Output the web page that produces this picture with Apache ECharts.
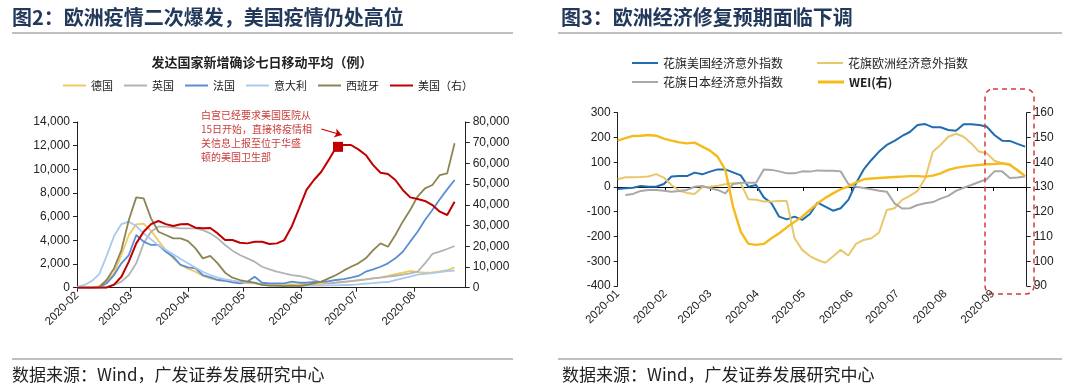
<!DOCTYPE html>
<html><head><meta charset="utf-8">
<script src="https://cdn.jsdelivr.net/npm/echarts@6/dist/echarts.min.js"></script>
<style>html,body{margin:0;padding:0;background:#fff}#c{width:1080px;height:387px}</style>
</head><body><div id="c"></div>
<script>
// ---------- Left chart: 7-day moving average of new confirmed cases ----------
const covidDates = ['2020-02-01','2020-02-05','2020-02-09','2020-02-13','2020-02-17','2020-02-21','2020-02-25','2020-02-29','2020-03-04','2020-03-08','2020-03-12','2020-03-16','2020-03-20','2020-03-24','2020-03-28','2020-04-01','2020-04-05','2020-04-09','2020-04-13','2020-04-17','2020-04-21','2020-04-25','2020-04-29','2020-05-03','2020-05-07','2020-05-11','2020-05-15','2020-05-19','2020-05-23','2020-05-27','2020-05-31','2020-06-04','2020-06-08','2020-06-12','2020-06-16','2020-06-20','2020-06-24','2020-06-28','2020-07-02','2020-07-06','2020-07-10','2020-07-14','2020-07-18','2020-07-22','2020-07-26','2020-07-30','2020-08-03','2020-08-07','2020-08-11','2020-08-15','2020-08-19','2020-08-23'];
const germany = [0,0,0,140,560,1210,2760,4450,5350,5410,4820,3970,3180,2480,1920,1610,1350,990,790,650,560,510,420,390,370,310,280,280,280,280,280,280,310,310,370,420,510,560,650,700,790,870,990,1150,1270,1410,1320,1270,1300,1380,1490,1690];
const uk = [0,0,0,0,80,230,510,1070,2060,3750,4730,5160,5160,5100,5010,5010,5010,4870,4590,4170,3610,3130,2760,2480,2200,1770,1550,1350,1210,1070,990,850,650,450,370,420,480,560,620,700,790,850,930,1010,1100,1210,1350,2060,2850,3040,3270,3520];
const france = [0,0,0,30,370,1070,2060,2760,4450,3890,3610,3610,3040,2620,1920,1720,1630,1070,870,650,590,450,370,510,930,420,370,370,370,510,420,420,480,510,560,650,730,850,990,1350,1550,1770,2060,2480,3040,3890,4730,5720,6560,7470,8310,9100];
const italy = [80,230,560,1150,2680,4370,5380,5580,5210,4590,4080,3580,3180,2820,2420,2060,1690,1350,1070,850,700,590,510,450,390,230,170,140,140,140,140,170,170,170,200,200,230,230,280,340,390,450,480,650,790,930,1100,1180,1240,1320,1410,1440];
const spain = [0,0,0,50,650,1630,3180,5720,7630,7550,5860,4730,4450,4170,4170,3940,3320,2480,2680,2060,1270,850,650,510,420,230,170,170,140,170,140,230,370,510,790,1070,1440,1770,2060,2480,3180,3750,3460,4450,5580,6560,7690,8390,8680,9520,9660,12200];
const usa = [0,0,0,0,0,1500,5300,12600,21400,27000,30700,32200,30700,29800,30600,30700,29000,28700,28800,26200,23000,23000,21700,21400,22200,22200,21100,21400,23000,29500,38300,47200,52000,56000,61700,67800,68900,68900,66800,64100,59200,55500,54900,52000,47200,43600,42800,41900,39900,36700,35100,41500];
const covidNames = ['德国','英国','法国','意大利','西班牙','美国（右）'];

// ---------- Right chart: Citi economic surprise indices & WEI ----------
const econDates = ['2020-01-01','2020-01-06','2020-01-11','2020-01-16','2020-01-21','2020-01-26','2020-01-31','2020-02-05','2020-02-10','2020-02-15','2020-02-20','2020-02-25','2020-03-01','2020-03-06','2020-03-11','2020-03-16','2020-03-21','2020-03-26','2020-03-31','2020-04-05','2020-04-10','2020-04-15','2020-04-20','2020-04-25','2020-04-30','2020-05-05','2020-05-10','2020-05-15','2020-05-20','2020-05-25','2020-05-30','2020-06-04','2020-06-09','2020-06-14','2020-06-19','2020-06-24','2020-06-29','2020-07-04','2020-07-09','2020-07-14','2020-07-19','2020-07-24','2020-07-29','2020-08-03','2020-08-08','2020-08-13','2020-08-18','2020-08-23','2020-08-28','2020-09-02','2020-09-07','2020-09-12','2020-09-17','2020-09-22'];
const citiUS = [-8,-5,-3,4,1,1,12,42,44,44,58,51,62,71,71,59,47,1,8,-42,-66,-120,-131,-120,-133,-109,-63,-79,-96,-86,-52,15,71,109,143,170,186,206,222,250,254,241,241,230,227,253,253,250,244,210,187,186,174,163];
const citiEU = [31,39,39,40,42,52,38,8,-15,-24,-28,-1,1,5,11,15,15,-50,-52,-59,-59,-57,-57,-207,-254,-279,-295,-306,-281,-254,-277,-230,-214,-207,-184,-93,-86,-52,-36,-16,35,143,170,203,215,203,176,143,136,106,96,93,65,44];
const citiJP = [null,-32,-28,-16,-12,-12,-15,-19,-16,-12,1,4,-5,-12,-26,12,17,17,17,71,69,63,55,55,63,62,67,66,66,63,12,1,-4,-9,-15,-19,-66,-87,-86,-73,-66,-61,-47,-36,-16,-3,8,20,31,63,63,36,38,42];
const wei = [148.7,149.7,150.6,150.7,151.0,150.7,149.5,148.7,148.0,147.6,147.9,146.3,144.7,142.2,136.9,122.1,112.0,107.0,106.6,107.0,109.3,111.3,113.7,115.9,118.0,120.7,123.4,125.6,127.4,129.1,130.1,131.9,133.1,133.4,133.6,133.8,134.0,134.2,134.4,134.4,134.2,134.6,135.5,136.9,137.7,138.2,138.6,138.9,139.2,139.3,139.6,138.9,136.9,134.4];
const econNames = ['花旗美国经济意外指数','花旗欧洲经济意外指数','花旗日本经济意外指数','WEI(右)'];

const leftTicks = {min:0, max:14000, interval:2000};
const rightTicks = {min:0, max:80000, interval:10000};
const econLeftTicks = {min:-400, max:300, interval:100};
const econRightTicks = {min:90, max:160, interval:10};

const pair = (dates, vals) => dates.map((d, i) => [d, vals[i]]);
const DAY = 86400000;
const CJK = '"Noto Sans CJK SC", sans-serif';
const LAT = '"Liberation Sans", Arial, "Noto Sans CJK SC", sans-serif';

const chart = echarts.init(document.getElementById('c'), null, {renderer: 'canvas'});

function valAxis(grid, pos, t, fmt) {
  return {
    type: 'value', gridIndex: grid, position: pos, min: t.min, max: t.max, interval: t.interval,
    axisLine: {show: true, onZero: false, lineStyle: {color: '#222', width: 1}},
    axisTick: {show: true, length: 4, lineStyle: {color: '#222'}},
    splitLine: {show: false},
    axisLabel: {fontSize: 12, color: '#222', fontFamily: LAT, margin: 7, formatter: fmt}
  };
}
function timeAxis(grid, min, max, extra) {
  return Object.assign({
    type: 'time', gridIndex: grid, min: min, max: max,
    minInterval: 28 * DAY, maxInterval: 31 * DAY,
    splitLine: {show: false},
    axisLine: {show: true, onZero: false, lineStyle: {color: '#222'}},
    axisTick: {show: true, length: 4, lineStyle: {color: '#222'}},
    axisLabel: {rotate: 45, fontSize: 11.5, color: '#222', fontFamily: LAT, margin: 6, formatter: '{yyyy}-{MM}', hideOverlap: false}
  }, extra || {});
}
const thousands = v => v.toLocaleString('en-US');

const covidColors = ['#f1c862', '#b3b3b3', '#5b8ed6', '#a9c8ec', '#8c8552', '#c00000'];
const covidData = [germany, uk, france, italy, spain, usa];
const covidSeries = covidData.map((vals, i) => ({
  name: covidNames[i], type: 'line', xAxisIndex: 0, yAxisIndex: i === 5 ? 1 : 0,
  data: pair(covidDates, vals), symbol: 'none', showSymbol: false,
  lineStyle: {color: covidColors[i], width: i === 5 ? 2 : 1.8}, itemStyle: {color: covidColors[i]},
  z: 2 + i
}));
covidSeries[5].markPoint = {
  symbol: 'rect', symbolSize: 10, silent: true, label: {show: false},
  itemStyle: {color: '#c00000'},
  data: [{coord: ['2020-06-21', 68000]}]
};
covidSeries[5].markLine = {
  silent: true, label: {show: false}, symbol: ['none', 'arrow'], symbolSize: 7,
  lineStyle: {color: '#c00000', type: 'solid', width: 1.2},
  data: [[{coord: ['2020-06-12', 76600]}, {coord: ['2020-06-23', 73700]}]]
};

const econColors = ['#1f6cb0', '#e8c86c', '#a8a8a8', '#f5bb1c'];
const econData = [citiUS, citiEU, citiJP, wei];
const econOrder = [2, 1, 0, 3];
const econSeries = econOrder.map(i => ({
  name: econNames[i], type: 'line', xAxisIndex: 1, yAxisIndex: i === 3 ? 3 : 2,
  data: pair(econDates, econData[i]), symbol: 'none', showSymbol: false, connectNulls: false,
  lineStyle: {color: econColors[i], width: i === 3 ? 2.4 : 2}, itemStyle: {color: econColors[i]},
  z: 3 + i
}));

const legendBase = {icon: 'rect', itemHeight: 2, textStyle: {fontFamily: CJK, color: '#222'}, selectedMode: false};

const option = {
  animation: false,
  textStyle: {fontFamily: LAT},
  grid: [
    {left: 77, top: 122, width: 388.7, height: 165.7, containLabel: false, outerBoundsMode: 'none'},
    {left: 617.7, top: 112.7, width: 409, height: 173.3, containLabel: false, outerBoundsMode: 'none'}
  ],
  legend: [
    Object.assign({}, legendBase, {left: 58, top: 75, itemWidth: 23, itemGap: 11, data: covidNames,
      textStyle: {fontFamily: CJK, color: '#222', fontSize: 11}}),
    Object.assign({}, legendBase, {left: 627, top: 52, itemWidth: 26, itemGap: 34, data: [econNames[0], econNames[1]],
      textStyle: {fontFamily: CJK, color: '#222', fontSize: 12}}),
    Object.assign({}, legendBase, {left: 627, top: 71, itemWidth: 26, data: [econNames[2]],
      textStyle: {fontFamily: CJK, color: '#222', fontSize: 12}}),
    Object.assign({}, legendBase, {left: 813, top: 71, itemWidth: 26, itemHeight: 3, data: [econNames[3]],
      textStyle: {fontFamily: CJK, color: '#222', fontSize: 12, fontWeight: 'bold'}})
  ],
  xAxis: [
    timeAxis(0, '2020-02-01', '2020-08-29'),
    timeAxis(1, '2020-01-01', '2020-09-23', {axisLine: {show: false, onZero: false}, axisTick: {show: false}}),
    timeAxis(1, '2020-01-01', '2020-09-23', {position: 'top',
      axisLine: {show: true, onZero: true, lineStyle: {color: '#000'}},
      axisTick: {show: true, inside: true, length: 4, lineStyle: {color: '#000'}},
      axisLabel: {show: false}})
  ],
  yAxis: [
    valAxis(0, 'left', leftTicks, thousands),
    valAxis(0, 'right', rightTicks, thousands),
    valAxis(1, 'left', econLeftTicks),
    valAxis(1, 'right', econRightTicks)
  ],
  series: covidSeries.concat(econSeries),
  graphic: [
    {type: 'text', style: {x: 12, y: 17, text: '图2：欧洲疫情二次爆发，美国疫情仍处高位', font: 'bold 20px ' + CJK, fill: '#23395b', verticalAlign: 'middle'}},
    {type: 'line', shape: {x1: 12, y1: 33, x2: 513, y2: 33}, style: {stroke: '#808080', lineWidth: 1}},
    {type: 'text', style: {x: 561, y: 17, text: '图3：欧洲经济修复预期面临下调', font: 'bold 20px ' + CJK, fill: '#23395b', verticalAlign: 'middle'}},
    {type: 'line', shape: {x1: 558, y1: 33, x2: 1062, y2: 33}, style: {stroke: '#808080', lineWidth: 1}},
    {type: 'text', style: {x: 262, y: 62, text: '发达国家新增确诊七日移动平均（例）', font: 'bold 13px ' + CJK, fill: '#222', align: 'center', verticalAlign: 'middle'}},
    {type: 'text', style: {x: 201, y: 108, text: '白宫已经要求美国医院从\n15日开始，直接将疫情相\n关信息上报至位于华盛\n顿的美国卫生部', font: '10px ' + CJK, lineHeight: 14, fill: '#c83c3c'}},
    {type: 'rect', shape: {x: 985, y: 89, width: 49, height: 205, r: 8}, style: {fill: 'none', stroke: '#d63a3a', lineWidth: 1.5, lineDash: [5, 4]}, z: 100},
    {type: 'line', shape: {x1: 12, y1: 359, x2: 513, y2: 359}, style: {stroke: '#808080', lineWidth: 1}},
    {type: 'line', shape: {x1: 558, y1: 359, x2: 1062, y2: 359}, style: {stroke: '#808080', lineWidth: 1}},
    {type: 'text', style: {x: 12, y: 375, text: '数据来源：Wind，广发证券发展研究中心', font: '17px ' + CJK, fill: '#222', verticalAlign: 'middle'}},
    {type: 'text', style: {x: 562, y: 375, text: '数据来源：Wind，广发证券发展研究中心', font: '17px ' + CJK, fill: '#222', verticalAlign: 'middle'}}
  ]
};
chart.setOption(option);
</script>
</body></html>
